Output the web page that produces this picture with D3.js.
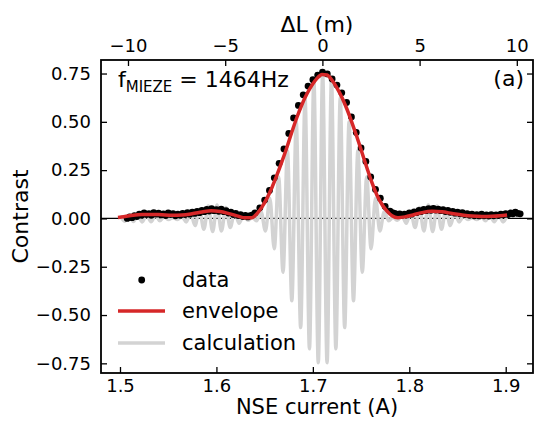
<!DOCTYPE html>
<html>
<head>
<meta charset="utf-8">
<script src="https://cdn.jsdelivr.net/npm/d3@7"></script>
<style>
  body { margin: 0; background: #fff; }
  svg { display: block; font-family: "DejaVu Sans", sans-serif; }
</style>
</head>
<body>
<svg id="chart" width="538" height="421"></svg>
<script>
// measured contrast vs NSE current
const dataCurrent = [
  1.5075, 1.5100, 1.5125, 1.5150, 1.5175, 1.5200, 1.5225, 1.5250, 1.5275, 1.5300,
  1.5325, 1.5350, 1.5375, 1.5400, 1.5425, 1.5450, 1.5475, 1.5500, 1.5525, 1.5550,
  1.5575, 1.5600, 1.5625, 1.5650, 1.5675, 1.5700, 1.5725, 1.5750, 1.5775, 1.5800,
  1.5825, 1.5850, 1.5875, 1.5900, 1.5925, 1.5950, 1.5975, 1.6000, 1.6025, 1.6050,
  1.6075, 1.6100, 1.6125, 1.6150, 1.6175, 1.6200, 1.6225, 1.6250, 1.6275, 1.6300,
  1.6325, 1.6350, 1.6375, 1.640, 1.645, 1.650, 1.655, 1.660, 1.665, 1.670,
  1.675, 1.680, 1.685, 1.690, 1.695, 1.700, 1.705, 1.710, 1.715, 1.720,
  1.725, 1.730, 1.735, 1.740, 1.745, 1.750, 1.755, 1.760, 1.765, 1.770,
  1.775, 1.780, 1.7825, 1.7850, 1.7875, 1.7900, 1.7925, 1.7950, 1.7975, 1.8000,
  1.8025, 1.8050, 1.8075, 1.8100, 1.8125, 1.8150, 1.8175, 1.8200, 1.8225, 1.8250,
  1.8275, 1.8300, 1.8325, 1.8350, 1.8375, 1.8400, 1.8425, 1.8450, 1.8475, 1.8500,
  1.8525, 1.8550, 1.8575, 1.8600, 1.8625, 1.8650, 1.8675, 1.8700, 1.8725, 1.8750,
  1.8775, 1.8800, 1.8825, 1.8850, 1.8875, 1.8900, 1.8925, 1.8950, 1.8975, 1.9000,
  1.9025, 1.9050, 1.9075, 1.9100, 1.9125, 1.9150
];
const dataContrast = [
  0.000, 0.008, 0.004, 0.015, 0.010, 0.022, 0.016, 0.028, 0.020, 0.025,
  0.017, 0.030, 0.022, 0.027, 0.018, 0.024, 0.015, 0.028, 0.020, 0.025,
  0.014, 0.022, 0.016, 0.026, 0.020, 0.030, 0.022, 0.032, 0.026, 0.036,
  0.030, 0.042, 0.035, 0.047, 0.038, 0.050, 0.040, 0.046, 0.037, 0.048,
  0.035, 0.040, 0.028, 0.033, 0.020, 0.026, 0.015, 0.020, 0.010, 0.016,
  0.008, 0.014, 0.018, 0.028, 0.055, 0.095, 0.145, 0.210, 0.285, 0.360,
  0.440, 0.520, 0.585, 0.640, 0.685, 0.718, 0.742, 0.757, 0.748, 0.722,
  0.690, 0.650, 0.600, 0.525, 0.445, 0.365, 0.295, 0.215, 0.150, 0.105,
  0.062, 0.038, 0.030, 0.026, 0.020, 0.024, 0.016, 0.022, 0.018, 0.028,
  0.022, 0.034, 0.030, 0.042, 0.036, 0.047, 0.040, 0.050, 0.042, 0.052,
  0.043, 0.048, 0.040, 0.046, 0.036, 0.042, 0.032, 0.037, 0.027, 0.032,
  0.024, 0.030, 0.020, 0.025, 0.016, 0.022, 0.014, 0.020, 0.013, 0.022,
  0.014, 0.018, 0.012, 0.020, 0.014, 0.018, 0.015, 0.022, 0.018, 0.025,
  0.020, 0.028, 0.024, 0.033, 0.026, 0.024
];

// fitted envelope (red)
const envCurrent = [
  1.4979, 1.5052, 1.5135, 1.5228, 1.5332, 1.5436, 1.5539, 1.5643, 1.5747, 1.5850,
  1.5944, 1.6037, 1.6130, 1.6224, 1.6296, 1.6369, 1.6421, 1.6473, 1.6525, 1.6576,
  1.6628, 1.6680, 1.6732, 1.6784, 1.6836, 1.6887, 1.6939, 1.6991, 1.7043, 1.7095,
  1.7147, 1.7199, 1.7251, 1.7303, 1.7354, 1.7406, 1.7458, 1.7510, 1.7562, 1.7613,
  1.7665, 1.7717, 1.7769, 1.7821, 1.7883, 1.7956, 1.8039, 1.8132, 1.8236, 1.8339,
  1.8443, 1.8547, 1.8651, 1.8754, 1.8858, 1.8941, 1.9014
];
const envContrast = [
  0.005, 0.010, 0.016, 0.020, 0.021, 0.019, 0.017, 0.018, 0.024, 0.033,
  0.040, 0.036, 0.025, 0.012, 0.003, 0.004, 0.025, 0.060, 0.105, 0.160,
  0.225, 0.295, 0.370, 0.450, 0.525, 0.590, 0.645, 0.690, 0.725, 0.745,
  0.742, 0.715, 0.675, 0.625, 0.565, 0.495, 0.420, 0.340, 0.260, 0.185,
  0.120, 0.072, 0.038, 0.014, 0.004, 0.008, 0.018, 0.030, 0.037, 0.034,
  0.026, 0.018, 0.012, 0.010, 0.011, 0.014, 0.018
];

// calculated signal, turning points of the oscillation (grey)
const calcCurrent = [
  1.50023, 1.50479, 1.50935, 1.51392, 1.51848, 1.52305, 1.52761, 1.53217, 1.53674, 1.54130,
  1.54587, 1.55043, 1.55499, 1.55956, 1.56412, 1.56869, 1.57325, 1.57781, 1.58238, 1.58694,
  1.59151, 1.59607, 1.60063, 1.60520, 1.60976, 1.61433, 1.61889, 1.62345, 1.62802, 1.63258,
  1.63715, 1.64171, 1.64627, 1.65084, 1.65540, 1.65997, 1.66453, 1.66909, 1.67366, 1.67822,
  1.68279, 1.68735, 1.69191, 1.69648, 1.70104, 1.70561, 1.71017, 1.71473, 1.71930, 1.72386,
  1.72843, 1.73299, 1.73755, 1.74212, 1.74668, 1.75125, 1.75581, 1.76037, 1.76494, 1.76950,
  1.77407, 1.77863, 1.78319, 1.78776, 1.79232, 1.79689, 1.80145, 1.80601, 1.81058, 1.81514,
  1.81971, 1.82427, 1.82883, 1.83340, 1.83796, 1.84253, 1.84709, 1.85165, 1.85622, 1.86078,
  1.86535, 1.86991, 1.87447, 1.87904, 1.88360, 1.88817, 1.89273, 1.89729, 1.90186
];
const calcContrast = [
  0.013, -0.014, 0.015, -0.016, 0.017, -0.018, 0.018, -0.017, 0.015, -0.012,
  0.009, -0.006, 0.004, -0.006, 0.010, -0.018, 0.027, -0.037, 0.047, -0.056,
  0.064, -0.068, 0.070, -0.065, 0.057, -0.047, 0.035, -0.025, 0.015, -0.010,
  0.005, -0.012, 0.035, -0.065, 0.105, -0.157, 0.215, -0.279, 0.350, -0.426,
  0.500, -0.565, 0.625, -0.675, 0.720, -0.747, 0.750, -0.747, 0.720, -0.675,
  0.625, -0.565, 0.500, -0.426, 0.350, -0.279, 0.215, -0.157, 0.105, -0.065,
  0.035, -0.012, 0.005, -0.010, 0.015, -0.025, 0.035, -0.047, 0.057, -0.065,
  0.070, -0.068, 0.064, -0.056, 0.047, -0.037, 0.027, -0.018, 0.010, -0.006,
  0.004, -0.006, 0.009, -0.012, 0.015, -0.017, 0.018, -0.018, 0.017
];

const xTicks = [1.5, 1.6, 1.7, 1.8, 1.9];
const yTicks = [-0.75, -0.5, -0.25, 0, 0.25, 0.5, 0.75];
const topTicks = [-10, -5, 0, 5, 10];
const zeroCurrent = 1.7099;   // current where ΔL = 0
const metersPerAmp = 49.6;

const W = 538, H = 421;
const margin = { top: 60, right: 5, bottom: 48, left: 101 };

const svg = d3.select("#chart");
svg.append("rect").attr("width", W).attr("height", H).attr("fill", "#fff");

const x = d3.scaleLinear().domain([1.4803, 1.9283]).range([margin.left, W - margin.right]);
const y = d3.scaleLinear().domain([-0.80, 0.82]).range([H - margin.bottom, margin.top]);
const xTop = d3.scaleLinear()
    .domain(x.domain().map(c => (c - zeroCurrent) * metersPerAmp))
    .range(x.range());

const plot = svg.append("g");

// zero line
plot.append("line")
    .attr("x1", x.range()[0]).attr("x2", x.range()[1])
    .attr("y1", y(0)).attr("y2", y(0))
    .attr("stroke", "#000").attr("stroke-width", 1.3);

// calculation
const calcPts = calcCurrent.map((c, i) => [c, calcContrast[i]]);
plot.append("path")
    .datum(calcPts)
    .attr("fill", "none")
    .attr("stroke", "#d3d3d3")
    .attr("stroke-width", 3.5)
    .attr("d", d3.line().x(d => x(d[0])).y(d => y(d[1])).curve(d3.curveMonotoneX));

// data
plot.append("g").selectAll("circle")
    .data(dataCurrent.map((c, i) => [c, dataContrast[i]]))
    .join("circle")
    .attr("cx", d => x(d[0]))
    .attr("cy", d => y(d[1]))
    .attr("r", 3.4)
    .attr("fill", "#000");

// envelope
plot.append("path")
    .datum(envCurrent.map((c, i) => [c, envContrast[i]]))
    .attr("fill", "none")
    .attr("stroke", "#d62728")
    .attr("stroke-width", 3.5)
    .attr("d", d3.line().x(d => x(d[0])).y(d => y(d[1])).curve(d3.curveMonotoneX));

// axes, ticks pointing inward
function styleAxis(g, size) {
    g.select(".domain").remove();
    g.selectAll(".tick line").attr("stroke", "#000").attr("stroke-width", 1.3);
    g.selectAll(".tick text").attr("fill", "#000").style("font-size", size + "px")
        .style("font-family", "DejaVu Sans");
}

svg.append("g")
    .attr("transform", `translate(0,${H - margin.bottom})`)
    .call(d3.axisBottom(x).tickValues(xTicks).tickFormat(d3.format(".1f"))
        .tickSizeInner(-6).tickSizeOuter(0).tickPadding(6))
    .call(g => styleAxis(g, 18));

svg.append("g")
    .attr("transform", `translate(${margin.left},0)`)
    .call(d3.axisLeft(y).tickValues(yTicks).tickFormat(d3.format(".2f"))
        .tickSizeInner(-6).tickSizeOuter(0).tickPadding(10))
    .call(g => styleAxis(g, 18));

svg.append("g")
    .attr("transform", `translate(${W - margin.right},0)`)
    .call(d3.axisRight(y).tickValues(yTicks).tickFormat("")
        .tickSizeInner(-6).tickSizeOuter(0))
    .call(g => styleAxis(g, 18));

svg.append("g")
    .attr("transform", `translate(0,${margin.top})`)
    .call(d3.axisTop(xTop).tickValues(topTicks)
        .tickSizeInner(-6).tickSizeOuter(0).tickPadding(8.5))
    .call(g => styleAxis(g, 18));

// frame
svg.append("rect")
    .attr("x", margin.left).attr("y", margin.top)
    .attr("width", W - margin.left - margin.right)
    .attr("height", H - margin.top - margin.bottom)
    .attr("fill", "none").attr("stroke", "#000").attr("stroke-width", 1.8);

// labels
const cx = (margin.left + W - margin.right) / 2;
svg.append("text").attr("x", cx).attr("y", 31.5).attr("text-anchor", "middle")
    .style("font-size", "22px").text("ΔL (m)");
svg.append("text").attr("x", cx).attr("y", 414).attr("text-anchor", "middle")
    .style("font-size", "21px").text("NSE current (A)");
svg.append("text")
    .attr("transform", `translate(28,${(margin.top + H - margin.bottom) / 2}) rotate(-90)`)
    .attr("text-anchor", "middle")
    .style("font-size", "22px").text("Contrast");

// annotation
const note = svg.append("text").attr("x", 118).attr("y", 87).style("font-size", "22px");
note.append("tspan").text("f");
note.append("tspan").attr("dy", 5).style("font-size", "15px").text("MIEZE");
note.append("tspan").attr("dy", -5).text(" = 1464Hz");

svg.append("text").attr("x", 524).attr("y", 86).attr("text-anchor", "end")
    .style("font-size", "22px").text("(a)");

// legend
const legend = svg.append("g").style("font-size", "21px");
legend.append("circle").attr("cx", 141.7).attr("cy", 280).attr("r", 3.4).attr("fill", "#000");
legend.append("line").attr("x1", 118).attr("x2", 165).attr("y1", 311).attr("y2", 311)
    .attr("stroke", "#d62728").attr("stroke-width", 3.5);
legend.append("line").attr("x1", 118).attr("x2", 165).attr("y1", 343).attr("y2", 343)
    .attr("stroke", "#d3d3d3").attr("stroke-width", 3.5);
legend.append("text").attr("x", 182).attr("y", 287).text("data");
legend.append("text").attr("x", 182).attr("y", 318).text("envelope");
legend.append("text").attr("x", 182).attr("y", 350).text("calculation");
</script>
</body>
</html>
